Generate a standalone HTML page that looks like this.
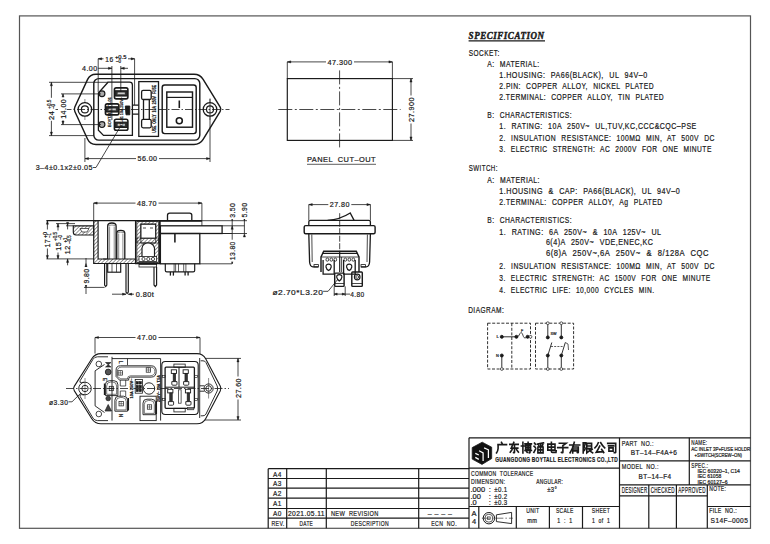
<!DOCTYPE html>
<html><head><meta charset="utf-8"><style>
html,body{margin:0;padding:0;background:#fff;width:770px;height:544px;overflow:hidden}
svg{display:block}
text{font-family:"Liberation Sans", sans-serif;fill:#1a1a1a;stroke:#1a1a1a;stroke-width:0.22;white-space:pre}
.c{stroke-dasharray:8 2 1.5 2}
.d{stroke-dasharray:2 1.5}
.f{fill:#1a1a1a}
</style></head><body>
<svg width="770" height="544" viewBox="0 0 770 544">
<defs><pattern id="hat" width="2.6" height="2.6" patternUnits="userSpaceOnUse" patternTransform="rotate(45)"><line x1="0" y1="0" x2="0" y2="2.6" style="stroke:#1a1a1a;stroke-width:0.9"/></pattern></defs>
<g fill="none" stroke="#1a1a1a" stroke-width="0.9">
<rect x="19.5" y="15.9" width="731" height="512.4" stroke-width="1.2" stroke="#555"/>
<line x1="268.2" y1="468.7" x2="469" y2="468.7" stroke-width="1.2" />
<line x1="268.2" y1="478.5" x2="469" y2="478.5" stroke-width="1.2" />
<line x1="268.2" y1="488.1" x2="469" y2="488.1" stroke-width="1.2" />
<line x1="268.2" y1="498.2" x2="469" y2="498.2" stroke-width="1.2" />
<line x1="268.2" y1="508.5" x2="469" y2="508.5" stroke-width="1.2" />
<line x1="268.2" y1="518.1" x2="469" y2="518.1" stroke-width="1.2" />
<line x1="268.2" y1="468.7" x2="268.2" y2="528.3" stroke-width="1.2" />
<line x1="286.7" y1="468.7" x2="286.7" y2="528.3" stroke-width="1.2" />
<line x1="326.3" y1="468.7" x2="326.3" y2="528.3" stroke-width="1.2" />
<line x1="418.7" y1="468.7" x2="418.7" y2="528.3" stroke-width="1.2" />
<line x1="469" y1="437.8" x2="750.5" y2="437.8" stroke-width="1.2" />
<line x1="469" y1="437.8" x2="469" y2="528.3" stroke-width="1.2" />
<line x1="469" y1="468.1" x2="619.5" y2="468.1" stroke-width="1.2" />
<line x1="469" y1="506.5" x2="619.5" y2="506.5" stroke-width="1.2" />
<line x1="478.8" y1="506.5" x2="478.8" y2="528.3" stroke-width="1.2" />
<line x1="516.3" y1="506.5" x2="516.3" y2="528.3" stroke-width="1.2" />
<line x1="549.4" y1="506.5" x2="549.4" y2="528.3" stroke-width="1.2" />
<line x1="582.5" y1="506.5" x2="582.5" y2="528.3" stroke-width="1.2" />
<line x1="619.5" y1="437.8" x2="619.5" y2="528.3" stroke-width="1.2" />
<line x1="689.3" y1="437.8" x2="689.3" y2="484.9" stroke-width="1.2" />
<line x1="619.5" y1="460.9" x2="750.5" y2="460.9" stroke-width="1.2" />
<line x1="619.5" y1="484.9" x2="750.5" y2="484.9" stroke-width="1.2" />
<line x1="619.5" y1="495.9" x2="707.3" y2="495.9" stroke-width="1.2" />
<line x1="648.8" y1="484.9" x2="648.8" y2="528.3" stroke-width="1.2" />
<line x1="676.4" y1="484.9" x2="676.4" y2="528.3" stroke-width="1.2" />
<line x1="707.3" y1="484.9" x2="707.3" y2="528.3" stroke-width="1.2" />
<line x1="707.3" y1="506.5" x2="750.5" y2="506.5" stroke-width="1.2" />
<text x="273.1" y="476.6" font-size="8" textLength="8.7" lengthAdjust="spacingAndGlyphs" letter-spacing="0.48" >A4</text>
<text x="273.1" y="486.3" font-size="8" textLength="8.7" lengthAdjust="spacingAndGlyphs" letter-spacing="0.48" >A3</text>
<text x="273.1" y="496.1" font-size="8" textLength="8.7" lengthAdjust="spacingAndGlyphs" letter-spacing="0.48" >A2</text>
<text x="273.1" y="506.3" font-size="8" textLength="8.7" lengthAdjust="spacingAndGlyphs" letter-spacing="0.48" >A1</text>
<text x="273.1" y="516.3" font-size="8" textLength="8.7" lengthAdjust="spacingAndGlyphs" letter-spacing="0.48" >A0</text>
<text x="271.5" y="526" font-size="8" textLength="13" lengthAdjust="spacingAndGlyphs" letter-spacing="0.48" >REV.</text>
<text x="306.5" y="516.3" font-size="8" textLength="37" lengthAdjust="spacingAndGlyphs" letter-spacing="0.48" text-anchor="middle" >2021.05.11</text>
<text x="330.9" y="516.3" font-size="8" textLength="47.7" lengthAdjust="spacingAndGlyphs" letter-spacing="0.48" >NEW  REVISION</text>
<text x="299.5" y="526" font-size="8" textLength="13.6" lengthAdjust="spacingAndGlyphs" letter-spacing="0.48" >DATE</text>
<text x="350.8" y="526" font-size="8" textLength="38.2" lengthAdjust="spacingAndGlyphs" letter-spacing="0.48" >DESCRIPTION</text>
<text x="427.7" y="516.3" font-size="8" textLength="24.6" lengthAdjust="spacingAndGlyphs" letter-spacing="0.48" >– – – –</text>
<text x="431.3" y="526" font-size="8" textLength="25.6" lengthAdjust="spacingAndGlyphs" letter-spacing="0.48" >ECN  NO.</text>
<text x="471" y="475.5" font-size="7.5" textLength="62.5" lengthAdjust="spacingAndGlyphs" letter-spacing="0.45" >COMMON  TOLERANCE</text>
<text x="471" y="483.6" font-size="7.5" textLength="34.3" lengthAdjust="spacingAndGlyphs" letter-spacing="0.45" >DIMENSION:</text>
<text x="536.2" y="483.6" font-size="7.5" textLength="27" lengthAdjust="spacingAndGlyphs" letter-spacing="0.45" >ANGULAR:</text>
<text x="470.5" y="492" font-size="7.5" >.000</text>
<text x="488.7" y="492" font-size="7.5" >:</text>
<text x="494.2" y="492" font-size="7.5" textLength="13.3" lengthAdjust="spacingAndGlyphs" letter-spacing="0.45" >±0.1</text>
<text x="470.5" y="498.7" font-size="7.5" >.00</text>
<text x="488.7" y="498.7" font-size="7.5" >:</text>
<text x="494.2" y="498.7" font-size="7.5" textLength="13.3" lengthAdjust="spacingAndGlyphs" letter-spacing="0.45" >±0.2</text>
<text x="470.5" y="505.3" font-size="7.5" >.0</text>
<text x="488.7" y="505.3" font-size="7.5" >:</text>
<text x="494.2" y="505.3" font-size="7.5" textLength="13.3" lengthAdjust="spacingAndGlyphs" letter-spacing="0.45" >±0.3</text>
<text x="547.2" y="492" font-size="7.5" textLength="10" lengthAdjust="spacingAndGlyphs" letter-spacing="0.45" >±3°</text>
<text x="474" y="516.3" font-size="7.5" text-anchor="middle" >A</text>
<text x="474" y="524" font-size="7.5" text-anchor="middle" >4</text>
<text x="526.2" y="513.2" font-size="8" textLength="13.3" lengthAdjust="spacingAndGlyphs" letter-spacing="0.48" >UNIT</text>
<text x="527.3" y="523" font-size="7" textLength="10" lengthAdjust="spacingAndGlyphs" letter-spacing="0.42" >mm</text>
<text x="556" y="513.2" font-size="8" textLength="17.7" lengthAdjust="spacingAndGlyphs" letter-spacing="0.48" >SCALE</text>
<text x="557.2" y="523.2" font-size="7" textLength="15.4" lengthAdjust="spacingAndGlyphs" letter-spacing="0.42" >1  :  1</text>
<text x="591.8" y="513.2" font-size="8" textLength="18.3" lengthAdjust="spacingAndGlyphs" letter-spacing="0.48" >SHEET</text>
<text x="592" y="523.2" font-size="7" textLength="18.1" lengthAdjust="spacingAndGlyphs" letter-spacing="0.42" >1  of  1</text>
<text x="621.8" y="446.1" font-size="7.8" textLength="32" lengthAdjust="spacingAndGlyphs" letter-spacing="0.47" >PART  NO.:</text>
<text x="630.8" y="455.4" font-size="7.2" textLength="46.4" lengthAdjust="spacingAndGlyphs" letter-spacing="0.43" >BT–14–F4A+6</text>
<text x="691.3" y="445" font-size="7.5" textLength="16" lengthAdjust="spacingAndGlyphs" letter-spacing="0.45" >NAME:</text>
<text x="691.3" y="450.6" font-size="5.4" textLength="59" lengthAdjust="spacingAndGlyphs" >AC INLET 3P+FUSE HOLDR</text>
<text x="694.6" y="457.2" font-size="5.4" textLength="47.4" lengthAdjust="spacingAndGlyphs" >+SWITCH(SCREW–ON)</text>
<text x="621.8" y="469.3" font-size="7.8" textLength="37" lengthAdjust="spacingAndGlyphs" letter-spacing="0.47" >MODEL  NO.:</text>
<text x="638.6" y="479.3" font-size="7.2" textLength="32.8" lengthAdjust="spacingAndGlyphs" letter-spacing="0.43" >BT–14–F4</text>
<text x="691.3" y="468.3" font-size="7.5" textLength="17" lengthAdjust="spacingAndGlyphs" letter-spacing="0.45" >SPEC.:</text>
<text x="697.6" y="473.1" font-size="5.4" textLength="42.4" lengthAdjust="spacingAndGlyphs" >IEC 60320–1, C14</text>
<text x="697.6" y="478.3" font-size="5.4" textLength="23.6" lengthAdjust="spacingAndGlyphs" >IEC 61058</text>
<text x="697.6" y="483.7" font-size="5.4" textLength="30" lengthAdjust="spacingAndGlyphs" >IEC 60127–6</text>
<text x="621.8" y="493.4" font-size="8.4" textLength="25.6" lengthAdjust="spacingAndGlyphs" letter-spacing="0.50" >DESIGNER</text>
<text x="650.7" y="493.4" font-size="8.4" textLength="24.2" lengthAdjust="spacingAndGlyphs" letter-spacing="0.50" >CHECKED</text>
<text x="678.3" y="493.4" font-size="8.4" textLength="27.4" lengthAdjust="spacingAndGlyphs" letter-spacing="0.50" >APPROVED</text>
<text x="709.2" y="491.3" font-size="7.5" textLength="17" lengthAdjust="spacingAndGlyphs" letter-spacing="0.45" >NOTE:</text>
<text x="709.2" y="513.1" font-size="7.5" textLength="27.8" lengthAdjust="spacingAndGlyphs" letter-spacing="0.45" >FILE  NO.:</text>
<text x="710.6" y="523.3" font-size="7.6" textLength="37.6" lengthAdjust="spacingAndGlyphs" letter-spacing="0.46" >S14F–0005</text>
<text x="495.3" y="462.2" font-size="6.4" textLength="122.6" lengthAdjust="spacingAndGlyphs" letter-spacing="0.38" font-weight="bold" >GUANGDONG BOYTALL ELECTRONICS CO.,LTD</text>
<path d="M482.2,442.2 L491.7,447.2 L491.7,458.6 L482,464.4 L472.2,459.1 L472.2,447.6 Z" stroke-width="0.8" fill="#111"/>
<path d="M479.1,450.8 L483.1,452.9 L483.1,461 M484.1,447.9 L488.4,449.8 L488.4,457.9 M475.3,453.4 L478.8,455 M475.3,457.4 L478.8,459.4" stroke-width="1.25" stroke="#fff"/>
<path d="M5,0 L5.8,1.6 M1.5,2.2 L10,2.2 M1.6,2.2 L1.6,6 Q1.4,8.5 0,10.3" transform="translate(496.5 442.3) scale(1.0 1.03)" stroke-width="1.6" stroke-linecap="square" fill="none"/>
<path d="M0.8,2 L9.2,2 M4.8,0 L2.2,5.6 L8.8,5.6 M5.5,3.2 L5.5,9.6 Q5.5,10.3 4.6,10 M3,7.2 L1.2,9.6 M7.6,7.2 L9.4,9.6" transform="translate(509 442.3) scale(1.0 1.03)" stroke-width="1.6" stroke-linecap="square" fill="none"/>
<path d="M0,3.6 L3,3.6 M1.5,0 L1.5,10.3 M3.6,1.6 L10,1.6 M4.2,3 L9.2,3 L9.2,6.8 L4.2,6.8 Z M4.2,4.9 L9.2,4.9 M6.7,0 L6.7,6.8 M3.6,8 L10,8 M8.6,6.8 L8.6,9.8 Q8.6,10.4 7.8,10.1 M5,8.8 L5.8,9.8" transform="translate(521.4 442.3) scale(1.0 1.03)" stroke-width="1.6" stroke-linecap="square" fill="none"/>
<path d="M0.6,0.8 L1.6,2 M0.2,3.8 L1.4,5 M0,9.8 L1.8,6.4 M3.6,1.8 L9.6,0.6 M4.6,2.4 L5.2,3.6 M6.8,2.3 L6.9,3.6 M8.9,2.2 L8.4,3.6 M4,4.6 L9.2,4.6 L9.2,10.2 L4,10.2 Z M4,7.3 L9.2,7.3 M6.6,4.6 L6.6,10.2" transform="translate(533.9 442.3) scale(1.0 1.03)" stroke-width="1.6" stroke-linecap="square" fill="none"/>
<path d="M1.4,1.8 L8.6,1.8 L8.6,7.6 L1.4,7.6 Z M1.4,4.7 L8.6,4.7 M5,0 L5,9 Q5,9.8 6,9.8 L9.6,9.8 L9.8,8.2" transform="translate(546.4 442.3) scale(1.0 1.03)" stroke-width="1.6" stroke-linecap="square" fill="none"/>
<path d="M1.6,0.9 L8.4,0.9 L5.2,3.2 M5.2,3.2 L5.2,9.6 Q5.2,10.4 3.8,9.8 M0,5.2 L10,5.2" transform="translate(557.7 442.3) scale(1.0 1.03)" stroke-width="1.6" stroke-linecap="square" fill="none"/>
<path d="M0,2.6 L10,2.6 M4.6,0 Q3.2,6 0.4,10.2 M3,4.6 L8.6,4.6 L8.6,9.6 Q8.6,10.4 7.6,10 M3,4.6 L3,10.3 M3,6.5 L8.6,6.5 M3,8.3 L8.6,8.3" transform="translate(569.7 442.3) scale(1.0 1.03)" stroke-width="1.6" stroke-linecap="square" fill="none"/>
<path d="M0.6,0.6 L0.6,10.3 M0.6,0.6 L3,0.6 L1.6,4.2 Q3.4,6 1.8,7.8 M4.2,1 L9,1 L9,6.2 L4.2,6.2 M4.2,3.6 L9,3.6 M4.2,1 L4.2,10.2 L6.4,8.6 M6,6.2 Q7.5,9 10,10.2 M9.6,6.8 L7.8,8" transform="translate(582.6 442.3) scale(1.0 1.03)" stroke-width="1.6" stroke-linecap="square" fill="none"/>
<path d="M3.6,0.4 Q2.5,3.5 0.2,5.4 M6,0.4 Q8,3.8 10,5.4 M5,3.8 Q3.5,7 1.6,9.6 L8.6,9 M7,7 L9,9.9" transform="translate(594.7 442.3) scale(1.0 1.03)" stroke-width="1.6" stroke-linecap="square" fill="none"/>
<path d="M1,1 L9,1 L9,9.6 Q9,10.4 7.6,10 M1.8,3.5 L7,3.5 M2.2,5.4 L6.4,5.4 L6.4,8.6 L2.2,8.6 Z" transform="translate(606.7 442.3) scale(1.0 1.03)" stroke-width="1.6" stroke-linecap="square" fill="none"/>
<circle cx="488.9" cy="518.2" r="5.7" stroke-width="1.0" />
<circle cx="488.9" cy="518.2" r="4" stroke-width="0.7" />
<rect x="487.6" y="516.9" width="2.6" height="2.6" stroke-width="0.6" />
<path d="M496.4,514.8 L511.6,512.4 L511.6,523.6 L496.4,521.6 Z" stroke-width="0.9" />
<line x1="481.9" y1="518.2" x2="512.9" y2="518.2" stroke-width="0.6" class="c" />
<text x="468.6" y="39.4" font-size="9.6" textLength="76" lengthAdjust="spacingAndGlyphs" letter-spacing="0.58" font-weight="bold" font-style="italic" style='font-family:"Liberation Serif", serif;stroke-width:0.45' >SPECIFICATION</text>
<line x1="468.6" y1="40.9" x2="545" y2="40.9" stroke-width="1.4" />
<text x="468.8" y="56.1" font-size="8.7" textLength="30.9" lengthAdjust="spacingAndGlyphs" word-spacing="0.3" letter-spacing="0.6">SOCKET:</text>
<text x="487.3" y="66.8" font-size="8.7" textLength="52.2" lengthAdjust="spacingAndGlyphs" word-spacing="0.3" letter-spacing="0.6">A:  MATERIAL:</text>
<text x="499.3" y="77.8" font-size="8.7" textLength="148.3" lengthAdjust="spacingAndGlyphs" word-spacing="0.3" letter-spacing="0.6">1.HOUSING:  PA66(BLACK),  UL  94V–0</text>
<text x="499.3" y="89.0" font-size="8.7" textLength="154.7" lengthAdjust="spacingAndGlyphs" word-spacing="0.3" letter-spacing="0.6">2.PIN:  COPPER  ALLOY,  NICKEL  PLATED</text>
<text x="499.3" y="100.19999999999999" font-size="8.7" textLength="164.7" lengthAdjust="spacingAndGlyphs" word-spacing="0.3" letter-spacing="0.6">2.TERMINAL:  COPPER  ALLOY,  TIN  PLATED</text>
<text x="487.3" y="118.1" font-size="8.7" textLength="84.7" lengthAdjust="spacingAndGlyphs" word-spacing="0.3" letter-spacing="0.6">B:  CHARACTERISTICS:</text>
<text x="499.3" y="129.4" font-size="8.7" textLength="197.4" lengthAdjust="spacingAndGlyphs" word-spacing="0.3" letter-spacing="0.6">1.  RATING:  10A  250V~  UL,TUV,KC,CCC&amp;CQC–PSE</text>
<text x="499.3" y="140.6" font-size="8.7" textLength="215.7" lengthAdjust="spacingAndGlyphs" word-spacing="0.3" letter-spacing="0.6">2.  INSULATION  RESISTANCE:  100MΩ  MIN,  AT  500V  DC</text>
<text x="499.3" y="151.79999999999998" font-size="8.7" textLength="212.5" lengthAdjust="spacingAndGlyphs" word-spacing="0.3" letter-spacing="0.6">3.  ELECTRIC  STRENGTH:  AC  2000V  FOR  ONE  MINUTE</text>
<text x="468.8" y="171.4" font-size="8.7" textLength="29.1" lengthAdjust="spacingAndGlyphs" word-spacing="0.3" letter-spacing="0.6">SWITCH:</text>
<text x="487.3" y="182.6" font-size="8.7" textLength="52.7" lengthAdjust="spacingAndGlyphs" word-spacing="0.3" letter-spacing="0.6">A:  MATERIAL:</text>
<text x="499.3" y="193.6" font-size="8.7" textLength="180.9" lengthAdjust="spacingAndGlyphs" word-spacing="0.3" letter-spacing="0.6">1.HOUSING  &amp;  CAP:  PA66(BLACK),  UL  94V–0</text>
<text x="499.3" y="205.4" font-size="8.7" textLength="163.4" lengthAdjust="spacingAndGlyphs" word-spacing="0.3" letter-spacing="0.6">2.TERMINAL:  COPPER  ALLOY,  Ag  PLATED</text>
<text x="487.3" y="223.4" font-size="8.7" textLength="84.7" lengthAdjust="spacingAndGlyphs" word-spacing="0.3" letter-spacing="0.6">B:  CHARACTERISTICS:</text>
<text x="499.3" y="234.6" font-size="8.7" textLength="162.3" lengthAdjust="spacingAndGlyphs" word-spacing="0.3" letter-spacing="0.6">1.  RATING:  6A  250V~  &amp;  10A  125V~  UL</text>
<text x="545.9" y="244.6" font-size="8.7" textLength="107.6" lengthAdjust="spacingAndGlyphs" word-spacing="0.3" letter-spacing="0.6">6(4)A  250V~  VDE,ENEC,KC</text>
<text x="545.9" y="255.79999999999998" font-size="8.7" textLength="163.1" lengthAdjust="spacingAndGlyphs" word-spacing="0.3" letter-spacing="0.6">6(8)A  250V~,6A  250V~  &amp;  8/128A  CQC</text>
<text x="499.3" y="268.90000000000003" font-size="8.7" textLength="215.7" lengthAdjust="spacingAndGlyphs" word-spacing="0.3" letter-spacing="0.6">2.  INSULATION  RESISTANCE:  100MΩ  MIN,  AT  500V  DC</text>
<text x="499.3" y="280.90000000000003" font-size="8.7" textLength="211.4" lengthAdjust="spacingAndGlyphs" word-spacing="0.3" letter-spacing="0.6">3.  ELECTRIC  STRENGTH:  AC  1500V  FOR  ONE  MINUTE</text>
<text x="499.3" y="293.1" font-size="8.7" textLength="155.3" lengthAdjust="spacingAndGlyphs" word-spacing="0.3" letter-spacing="0.6">4.  ELECTRIC  LIFE:  10,000  CYCLES  MIN.</text>
<text x="468.2" y="313.1" font-size="8.7" textLength="36.0" lengthAdjust="spacingAndGlyphs" word-spacing="0.3" letter-spacing="0.6">DIAGRAM:</text>
<path d="M87.48,79.65 Q90.00,74.20 96.00,74.20 L194.00,74.20 Q200.00,74.20 203.14,79.31 L220.19,107.07 Q221.50,109.20 220.20,111.34 L203.12,139.38 Q200.00,144.50 194.00,144.50 L96.00,144.50 Q90.00,144.50 87.50,139.05 L74.84,111.47 Q73.80,109.20 74.85,106.93 Z" stroke-width="1.43" />
<rect x="93.8" y="78.6" width="106" height="61.5" rx="5" stroke-width="1.43" />
<circle cx="84.9" cy="109.4" r="6.8" stroke-width="1.3" />
<circle cx="84.9" cy="109.4" r="3.5" stroke-width="1.17" />
<line x1="84.9" y1="99" x2="84.9" y2="103" stroke-width="0.5" />
<line x1="84.9" y1="116" x2="84.9" y2="120" stroke-width="0.5" />
<circle cx="210" cy="109.4" r="6.8" stroke-width="1.3" />
<circle cx="210" cy="109.4" r="3.5" stroke-width="1.17" />
<line x1="210" y1="99" x2="210" y2="103" stroke-width="0.5" />
<line x1="210" y1="116" x2="210" y2="120" stroke-width="0.5" />
<line x1="50" y1="109.5" x2="229.5" y2="109.5" stroke-width="0.8" class="c" />
<line x1="210" y1="98.5" x2="210" y2="162" stroke-width="0.8" />
<line x1="84.9" y1="138" x2="84.9" y2="162" stroke-width="0.8" />
<path d="M108,82.2 L129.5,82.2 Q132.4,82.2 132.4,85 L132.4,135.4 L103.5,135.4 L98.4,130.3 L98.4,93 Z" stroke-width="1.3" />
<circle cx="102" cy="93.7" r="2.9" stroke-width="1.17" fill="#aaa"/>
<circle cx="102" cy="124.6" r="2.9" stroke-width="1.17" fill="#aaa"/>
<rect x="114.4" y="87.9" width="13.5" height="11" rx="1.8" stroke-width="1.56" />
<rect x="115.0" y="90.80000000000001" width="12.3" height="5.2" stroke-width="1.17" fill="#333"/>
<rect x="117.2" y="92.10000000000001" width="7.9" height="2.6" stroke-width="0.5" fill="#ccc"/>
<rect x="105.4" y="103.9" width="13.5" height="11" rx="1.8" stroke-width="1.56" />
<rect x="106.0" y="106.80000000000001" width="12.3" height="5.2" stroke-width="1.17" fill="#333"/>
<rect x="108.2" y="108.10000000000001" width="7.9" height="2.6" stroke-width="0.5" fill="#ccc"/>
<rect x="114.4" y="119.3" width="13.5" height="11" rx="1.8" stroke-width="1.56" />
<rect x="115.0" y="122.2" width="12.3" height="5.2" stroke-width="1.17" fill="#333"/>
<rect x="117.2" y="123.5" width="7.9" height="2.6" stroke-width="0.5" fill="#ccc"/>
<path d="M125.3,106 L129.8,106 L129.8,114.8 L126,114.8 Z" class="f"/>
<path d="M132.4,105.2 L138.8,105.2 M132.4,114.2 L138.8,114.2" stroke-width="1.17" />
<rect x="138.8" y="81.6" width="19.7" height="54.8" stroke-width="1.3" />
<rect x="141.6" y="90.4" width="9.6" height="9.1" rx="1.5" stroke-width="1.3" />
<rect x="141.6" y="119.4" width="9.6" height="8.4" rx="1.5" stroke-width="1.3" />
<line x1="143.5" y1="99.5" x2="143.5" y2="119.4" stroke-width="1.3" />
<line x1="149.3" y1="99.5" x2="149.3" y2="119.4" stroke-width="1.3" />
<text x="154.6" y="108.8" font-size="4.6" textLength="48" lengthAdjust="spacingAndGlyphs" text-anchor="middle" font-weight="bold" transform="rotate(-90 154.6 108.8)" dy="1.6">USE  ONLY  10A  250V  FUSE</text>
<rect x="162.2" y="85" width="34" height="48.6" rx="2.5" stroke-width="1.43" />
<rect x="166.8" y="92" width="25.7" height="35.2" stroke-width="1.43" />
<line x1="166.8" y1="97.4" x2="192.5" y2="97.4" stroke-width="1.17" />
<line x1="179.3" y1="100.5" x2="179.3" y2="108" stroke-width="1.56" />
<circle cx="179.3" cy="120.8" r="3" stroke-width="1.56" />
<text x="110.5" y="112" font-size="3.4" textLength="30" lengthAdjust="spacingAndGlyphs" text-anchor="middle" transform="rotate(-90 110.5 112)" >BOYTALL KT–01</text>
<text x="122.5" y="112" font-size="3.4" textLength="30" lengthAdjust="spacingAndGlyphs" text-anchor="middle" transform="rotate(-90 122.5 112)" >KT–01 10A 250V~</text>
<line x1="51.4" y1="82.3" x2="51.4" y2="135.6" stroke-width="0.8" />
<path d="M51.4,82.3 L50.3,85.8 L52.5,85.8 Z" class="f" stroke-width="0.4"/>
<path d="M51.4,135.6 L50.3,132.1 L52.5,132.1 Z" class="f" stroke-width="0.4"/>
<line x1="49" y1="82.3" x2="108" y2="82.3" stroke-width="0.8" />
<line x1="49" y1="135.6" x2="94" y2="135.6" stroke-width="0.8" />
<rect x="47.5" y="97.8" width="8" height="23" fill="#fff" stroke="none"/>
<text x="51.4" y="115.3" font-size="8" textLength="9.2" lengthAdjust="spacingAndGlyphs" letter-spacing="0.48" text-anchor="middle" transform="rotate(-90 51.4 115.3)" dy="2.9">24</text>
<text x="49.8" y="104.2" font-size="4.6" textLength="9" lengthAdjust="spacingAndGlyphs" text-anchor="middle" transform="rotate(-90 49.8 104.2)" dy="1.6">+0.5</text>
<text x="53.6" y="106.5" font-size="4.6" textLength="4.6" lengthAdjust="spacingAndGlyphs" text-anchor="middle" transform="rotate(-90 53.6 106.5)" dy="1.6">–0</text>
<line x1="63" y1="93.9" x2="63" y2="124.6" stroke-width="0.8" />
<path d="M63,93.9 L61.9,97.4 L64.1,97.4 Z" class="f" stroke-width="0.4"/>
<path d="M63,124.6 L61.9,121.1 L64.1,121.1 Z" class="f" stroke-width="0.4"/>
<line x1="61" y1="93.9" x2="101" y2="93.9" stroke-width="0.8" />
<line x1="61" y1="124.6" x2="101" y2="124.6" stroke-width="0.8" />
<rect x="59.25" y="97.3" width="7.5" height="23.0" fill="#fff" stroke="none"/>
<text x="63" y="108.8" font-size="8" textLength="20" lengthAdjust="spacingAndGlyphs" letter-spacing="0.48" text-anchor="middle" transform="rotate(-90 63 108.8)" dy="2.88">14.00</text>
<line x1="98.2" y1="58.8" x2="98.2" y2="92" stroke-width="0.8" />
<line x1="134.6" y1="58.8" x2="134.6" y2="105" stroke-width="0.8" />
<line x1="98.2" y1="58.8" x2="134.6" y2="58.8" stroke-width="0.8" />
<path d="M98.2,58.8 L101.7,57.699999999999996 L101.7,59.9 Z" class="f" stroke-width="0.4"/>
<path d="M134.6,58.8 L131.1,57.699999999999996 L131.1,59.9 Z" class="f" stroke-width="0.4"/>
<rect x="103.5" y="55" width="24.5" height="8" fill="#fff" stroke="none"/>
<text x="105.3" y="62.1" font-size="8" textLength="8.2" lengthAdjust="spacingAndGlyphs" letter-spacing="0.48" >16</text>
<text x="115" y="59.2" font-size="4.6" textLength="11.4" lengthAdjust="spacingAndGlyphs" >+0.5</text>
<text x="116" y="63.2" font-size="4.6" textLength="5" lengthAdjust="spacingAndGlyphs" >–0</text>
<line x1="98.2" y1="68.3" x2="111.9" y2="68.3" stroke-width="0.8" />
<line x1="111.9" y1="66" x2="111.9" y2="120" stroke-width="0.8" />
<line x1="120.8" y1="66" x2="120.8" y2="92" stroke-width="0.8" />
<line x1="120.8" y1="68.3" x2="128" y2="68.3" stroke-width="0.8" />
<path d="M111.9,68.3 L108.4,67.2 L108.4,69.39999999999999 Z" class="f" stroke-width="0.4"/>
<path d="M120.8,68.3 L124.3,67.2 L124.3,69.39999999999999 Z" class="f" stroke-width="0.4"/>
<text x="82" y="71.2" font-size="8" textLength="15.6" lengthAdjust="spacingAndGlyphs" letter-spacing="0.48" >4.00</text>
<line x1="85" y1="158.6" x2="210" y2="158.6" stroke-width="0.8" />
<path d="M85,158.6 L88.5,157.5 L88.5,159.7 Z" class="f" stroke-width="0.4"/>
<path d="M210,158.6 L206.5,157.5 L206.5,159.7 Z" class="f" stroke-width="0.4"/>
<rect x="136.0" y="154.85" width="23.0" height="7.5" fill="#fff" stroke="none"/>
<text x="137.5" y="161.48" font-size="8" textLength="20" lengthAdjust="spacingAndGlyphs" letter-spacing="0.48" >56.00</text>
<path d="M92.9,167.5 L96,167.5 L120.8,125.8" stroke-width="0.8" />
<text x="35.7" y="170.3" font-size="8" textLength="57.2" lengthAdjust="spacingAndGlyphs" letter-spacing="0.48" >3–4±0.1x2±0.05</text>
<line x1="46.4" y1="220.7" x2="201.9" y2="220.7" stroke-width="1.3" />
<line x1="201.9" y1="220.7" x2="232" y2="220.7" stroke-width="0.8" />
<path d="M93.7,220.7 L98.1,220.7 L98.1,259 L135.6,259 L135.6,263.5 L93.7,263.5 Z" stroke-width="1.17" fill="url(#hat)"/>
<path d="M73.3,225.8 L93.7,225.8 L93.7,235 L76,235 Q73.3,235 73.3,232 Z" stroke-width="1.17" fill="url(#hat)"/>
<path d="M80,228.5 L89,228.5 L87,232 L82,232 Z" stroke-width="0.7" fill="#fff"/>
<path d="M107.7,259 L107.7,226 Q107.7,223 111.9,223 Q116.1,223 116.1,226 L116.1,259" stroke-width="1.3" />
<path d="M116.8,259 L116.8,233 Q116.8,230.3 120.8,230.3 Q124.8,230.3 124.8,233 L124.8,259" stroke-width="1.3" />
<line x1="109.6" y1="226.5" x2="109.6" y2="259" stroke-width="0.5" />
<line x1="114.2" y1="226.5" x2="114.2" y2="259" stroke-width="0.5" />
<line x1="118.7" y1="233.5" x2="118.7" y2="259" stroke-width="0.5" />
<line x1="122.9" y1="233.5" x2="122.9" y2="259" stroke-width="0.5" />
<path d="M108.5,225.5 Q111.9,224.5 115.3,225.5 M117.6,232.6 Q120.8,231.6 124,232.6" stroke-width="0.5" />
<line x1="103" y1="259" x2="108" y2="259" stroke-width="0.8" />
<rect x="107.7" y="263.5" width="13" height="8.7" stroke-width="1.17" />
<line x1="112" y1="263.5" x2="112" y2="272.2" stroke-width="0.7" />
<line x1="116.5" y1="263.5" x2="116.5" y2="272.2" stroke-width="0.7" />
<path d="M104.6,263.5 L104.6,285 L105.7,286.5 L106.8,285 L106.8,263.5" stroke-width="1.17" />
<path d="M126,263.5 L126,292 L127.1,293.5 L128.3,292 L128.3,263.5" stroke-width="1.17" />
<path d="M154,267 L154,285 L155.3,286.5 L156.6,285 L156.6,267" stroke-width="1.17" />
<path d="M135.6,220.7 L159.8,220.7 L159.8,263.5 L135.6,263.5 Z" stroke-width="1.3" />
<path d="M136.8,221.5 L158.6,221.5 L158.6,262.5 L136.8,262.5 Z M140.9,224.2 L155.7,224.2 L155.7,243 L140.9,243 Z" stroke-width="0.8" fill="url(#hat)" fill-rule="evenodd"/>
<path d="M136.8,238 L158.6,238 L158.6,243 L136.8,243 Z" stroke-width="0.6" fill="url(#hat)"/>
<rect x="140.9" y="224.2" width="14.8" height="14" stroke-width="1.17" fill="#fff"/>
<line x1="143" y1="228" x2="146" y2="228" stroke-width="0.8" />
<line x1="150" y1="228" x2="153" y2="228" stroke-width="0.8" />
<path d="M142,258 L142,248 Q143,243 148,243 Q153,243 154.5,248 L154.5,258" stroke-width="1.17" fill="#fff"/>
<rect x="139" y="256.5" width="17.6" height="5" stroke-width="0.8" fill="#fff"/>
<circle cx="143.5" cy="259" r="1.6" stroke-width="0.8" />
<circle cx="148.3" cy="259" r="1.6" stroke-width="0.8" />
<circle cx="153" cy="259" r="1.6" stroke-width="0.8" />
<rect x="139" y="264.4" width="17.6" height="2.6" stroke-width="0.8" />
<line x1="159.8" y1="220.7" x2="159.8" y2="263.8" stroke-width="1.3" />
<path d="M167.5,220.7 L167.5,215.3 Q167.5,213.1 169.7,213.1 L189.6,213.1 Q191.8,213.1 191.8,215.3 L191.8,220.7" stroke-width="1.3" />
<rect x="160.4" y="225.8" width="61.7" height="7.7" stroke-width="1.3" />
<line x1="159.8" y1="221" x2="201.9" y2="221" stroke-width="1.3" />
<rect x="160.4" y="233.5" width="39.4" height="30.3" stroke-width="1.3" />
<line x1="174.9" y1="233.5" x2="174.9" y2="242.5" stroke-width="1.56" />
<line x1="232" y1="263.8" x2="199.8" y2="263.8" stroke-width="0.8" />
<line x1="222.1" y1="225.8" x2="244.4" y2="225.8" stroke-width="0.8" />
<line x1="222.1" y1="233.5" x2="232" y2="233.5" stroke-width="0.8" />
<path d="M165.3,263.8 L165.3,270.5 Q165.3,271.9 166.8,271.9 L193.2,271.9 Q194.7,271.9 194.7,270.5 L194.7,263.8" stroke-width="1.17" />
<line x1="174.1" y1="263.8" x2="174.1" y2="271.9" stroke-width="0.7" />
<line x1="175.6" y1="263.8" x2="175.6" y2="271.9" stroke-width="0.7" />
<line x1="178.5" y1="263.8" x2="178.5" y2="271.9" stroke-width="0.7" />
<line x1="183.7" y1="263.8" x2="183.7" y2="271.9" stroke-width="0.7" />
<line x1="185.9" y1="263.8" x2="185.9" y2="271.9" stroke-width="0.7" />
<line x1="170.4" y1="271.9" x2="170.4" y2="275.6" stroke-width="1.3" />
<line x1="173.4" y1="271.9" x2="173.4" y2="275.6" stroke-width="1.3" />
<line x1="185.1" y1="271.9" x2="185.1" y2="275.6" stroke-width="1.3" />
<line x1="188.1" y1="271.9" x2="188.1" y2="275.6" stroke-width="1.3" />
<line x1="93.7" y1="203.1" x2="93.7" y2="220.7" stroke-width="0.8" />
<line x1="201.9" y1="203.1" x2="201.9" y2="225.8" stroke-width="0.8" />
<line x1="93.7" y1="203.1" x2="201.9" y2="203.1" stroke-width="0.8" />
<path d="M93.7,203.1 L97.2,202.0 L97.2,204.2 Z" class="f" stroke-width="0.4"/>
<path d="M201.9,203.1 L198.4,202.0 L198.4,204.2 Z" class="f" stroke-width="0.4"/>
<rect x="135.5" y="199.35" width="23.0" height="7.5" fill="#fff" stroke="none"/>
<text x="137.0" y="205.98" font-size="8" textLength="20" lengthAdjust="spacingAndGlyphs" letter-spacing="0.48" >48.70</text>
<line x1="47.4" y1="220.7" x2="47.4" y2="258.9" stroke-width="0.8" />
<path d="M47.4,220.7 L46.3,224.2 L48.5,224.2 Z" class="f" stroke-width="0.4"/>
<path d="M47.4,258.9 L46.3,255.39999999999998 L48.5,255.39999999999998 Z" class="f" stroke-width="0.4"/>
<line x1="46.4" y1="258.9" x2="93.7" y2="258.9" stroke-width="0.8" />
<rect x="43.4" y="229.5" width="8.5" height="19" fill="#fff" stroke="none"/>
<text x="47.4" y="243.2" font-size="8" textLength="8.6" lengthAdjust="spacingAndGlyphs" letter-spacing="0.48" text-anchor="middle" transform="rotate(-90 47.4 243.2)" dy="2.9">17</text>
<text x="45.3" y="235" font-size="4.6" textLength="6" lengthAdjust="spacingAndGlyphs" text-anchor="middle" transform="rotate(-90 45.3 235)" dy="1.6">+0</text>
<text x="49.7" y="235.6" font-size="4.6" textLength="4.5" lengthAdjust="spacingAndGlyphs" text-anchor="middle" transform="rotate(-90 49.7 235.6)" dy="1.6">–1</text>
<line x1="58" y1="223.6" x2="58" y2="258.9" stroke-width="0.8" />
<path d="M58,223.6 L56.9,227.1 L59.1,227.1 Z" class="f" stroke-width="0.4"/>
<path d="M58,258.9 L56.9,255.39999999999998 L59.1,255.39999999999998 Z" class="f" stroke-width="0.4"/>
<line x1="56" y1="223.6" x2="75" y2="223.6" stroke-width="0.8" />
<rect x="54" y="230.5" width="8.5" height="22" fill="#fff" stroke="none"/>
<text x="58" y="246.2" font-size="8" textLength="9" lengthAdjust="spacingAndGlyphs" letter-spacing="0.48" text-anchor="middle" transform="rotate(-90 58 246.2)" dy="2.9">15</text>
<text x="55.8" y="236.5" font-size="4.6" textLength="9" lengthAdjust="spacingAndGlyphs" text-anchor="middle" transform="rotate(-90 55.8 236.5)" dy="1.6">+0.5</text>
<text x="60.2" y="237.5" font-size="4.6" textLength="4.5" lengthAdjust="spacingAndGlyphs" text-anchor="middle" transform="rotate(-90 60.2 237.5)" dy="1.6">–0</text>
<line x1="67.6" y1="223" x2="67.6" y2="229.4" stroke-width="0.8" />
<path d="M67.6,225.8 L66.5,222.3 L68.69999999999999,222.3 Z" class="f" stroke-width="0.4"/>
<line x1="67.6" y1="258.9" x2="67.6" y2="265.3" stroke-width="0.8" />
<path d="M67.6,258.9 L66.5,262.4 L68.69999999999999,262.4 Z" class="f" stroke-width="0.4"/>
<line x1="66" y1="225.8" x2="73.3" y2="225.8" stroke-width="0.8" />
<text x="67.6" y="249.7" font-size="8" textLength="9" lengthAdjust="spacingAndGlyphs" letter-spacing="0.48" text-anchor="middle" transform="rotate(-90 67.6 249.7)" dy="2.9">12</text>
<text x="65.4" y="240" font-size="4.6" textLength="5" lengthAdjust="spacingAndGlyphs" text-anchor="middle" transform="rotate(-90 65.4 240)" dy="1.6">+1</text>
<text x="69.8" y="239.5" font-size="4.6" textLength="8.5" lengthAdjust="spacingAndGlyphs" text-anchor="middle" transform="rotate(-90 69.8 239.5)" dy="1.6">–0.5</text>
<line x1="86" y1="258" x2="86" y2="294" stroke-width="0.8" />
<path d="M86,263.5 L84.9,267.0 L87.1,267.0 Z" class="f" stroke-width="0.4"/>
<path d="M86,287.4 L84.9,283.9 L87.1,283.9 Z" class="f" stroke-width="0.4"/>
<line x1="84" y1="287.4" x2="104.6" y2="287.4" stroke-width="0.8" />
<rect x="82.25" y="267.0" width="7.5" height="18.0" fill="#fff" stroke="none"/>
<text x="86" y="276" font-size="8" textLength="15" lengthAdjust="spacingAndGlyphs" letter-spacing="0.48" text-anchor="middle" transform="rotate(-90 86 276)" dy="2.88">9.80</text>
<line x1="112" y1="294.2" x2="126" y2="294.2" stroke-width="0.8" />
<line x1="128.3" y1="294.2" x2="134" y2="294.2" stroke-width="0.8" />
<path d="M126,294.2 L122.5,293.09999999999997 L122.5,295.3 Z" class="f" stroke-width="0.4"/>
<path d="M128.3,294.2 L131.8,293.09999999999997 L131.8,295.3 Z" class="f" stroke-width="0.4"/>
<text x="135.7" y="297.1" font-size="8" textLength="18.6" lengthAdjust="spacingAndGlyphs" letter-spacing="0.48" >0.80t</text>
<line x1="232.2" y1="218.5" x2="232.2" y2="225.8" stroke-width="0.8" />
<path d="M232.2,220.7 L231.1,217.2 L233.29999999999998,217.2 Z" class="f" stroke-width="0.4"/>
<path d="M232.2,225.8 L231.1,229.3 L233.29999999999998,229.3 Z" class="f" stroke-width="0.4"/>
<rect x="228.45" y="201.2" width="7.5" height="18.0" fill="#fff" stroke="none"/>
<text x="232.2" y="210.2" font-size="8" textLength="15" lengthAdjust="spacingAndGlyphs" letter-spacing="0.48" text-anchor="middle" transform="rotate(-90 232.2 210.2)" dy="2.88">3.50</text>
<line x1="244.4" y1="218.5" x2="244.4" y2="233.5" stroke-width="0.8" />
<path d="M244.4,220.7 L243.3,217.2 L245.5,217.2 Z" class="f" stroke-width="0.4"/>
<path d="M244.4,233.5 L243.3,237.0 L245.5,237.0 Z" class="f" stroke-width="0.4"/>
<line x1="232" y1="220.7" x2="247" y2="220.7" stroke-width="0.8" />
<line x1="222.1" y1="233.5" x2="247" y2="233.5" stroke-width="0.8" />
<rect x="240.65" y="201.0" width="7.5" height="18.0" fill="#fff" stroke="none"/>
<text x="244.4" y="210" font-size="8" textLength="15" lengthAdjust="spacingAndGlyphs" letter-spacing="0.48" text-anchor="middle" transform="rotate(-90 244.4 210)" dy="2.88">5.90</text>
<line x1="232.2" y1="225.8" x2="232.2" y2="263.8" stroke-width="0.8" />
<path d="M232.2,263.8 L231.1,260.3 L233.29999999999998,260.3 Z" class="f" stroke-width="0.4"/>
<rect x="228.45" y="239.7" width="7.5" height="22.0" fill="#fff" stroke="none"/>
<text x="232.2" y="250.7" font-size="8" textLength="19" lengthAdjust="spacingAndGlyphs" letter-spacing="0.48" text-anchor="middle" transform="rotate(-90 232.2 250.7)" dy="2.88">13.80</text>
<line x1="308.8" y1="204.6" x2="370.4" y2="204.6" stroke-width="0.8" />
<path d="M308.8,204.6 L312.3,203.5 L312.3,205.7 Z" class="f" stroke-width="0.4"/>
<path d="M370.4,204.6 L366.9,203.5 L366.9,205.7 Z" class="f" stroke-width="0.4"/>
<line x1="308.8" y1="204.6" x2="308.8" y2="220.4" stroke-width="0.8" />
<line x1="370.4" y1="204.6" x2="370.4" y2="220.4" stroke-width="0.8" />
<rect x="328.3" y="200.85" width="23.0" height="7.5" fill="#fff" stroke="none"/>
<text x="329.8" y="207.48" font-size="8" textLength="20" lengthAdjust="spacingAndGlyphs" letter-spacing="0.48" >27.80</text>
<path d="M308.8,225.6 L308.8,221.8 Q308.8,220.4 310.5,220.4 L368.7,220.4 Q370.4,220.4 370.4,221.8 L370.4,225.6" stroke-width="1.3" />
<path d="M327.6,220.4 Q340,219.5 350.2,213 L354.1,220.4" stroke-width="1.3" />
<rect x="304.2" y="225.6" width="70.9" height="8.1" rx="1.5" stroke-width="1.43" />
<path d="M308.8,233.7 L309.6,262 Q310,266.8 313,266.8 L318.2,266.8 M370.4,233.7 L369.6,262 Q369.2,266.8 366.2,266.8 L361,266.8" stroke-width="1.3" />
<line x1="311.8" y1="234.5" x2="312.2" y2="262" stroke-width="0.8" />
<line x1="367.4" y1="234.5" x2="367" y2="262" stroke-width="0.8" />
<rect x="314" y="264.6" width="4.4" height="2.4" stroke-width="0.8" />
<rect x="361" y="264.6" width="4.4" height="2.4" stroke-width="0.8" />
<line x1="339.7" y1="213.2" x2="339.7" y2="251.3" stroke-width="0.8" stroke-dasharray="6 1.5"/>
<path d="M321,272 L321,257 L323.7,251.3 L356.3,251.3 L359,257 L359,272" stroke-width="1.43" />
<line x1="322.6" y1="253.4" x2="357.4" y2="253.4" stroke-width="1.17" />
<line x1="321.5" y1="257" x2="358.5" y2="257" stroke-width="0.8" />
<rect x="326" y="258" width="2.6" height="3.2" rx="1.2" stroke-width="0.8" />
<rect x="330" y="258" width="2.6" height="3.2" rx="1.2" stroke-width="0.8" />
<rect x="334" y="258" width="2.6" height="3.2" rx="1.2" stroke-width="0.8" />
<rect x="344" y="258" width="2.6" height="3.2" rx="1.2" stroke-width="0.8" />
<rect x="348" y="258" width="2.6" height="3.2" rx="1.2" stroke-width="0.8" />
<rect x="352" y="258" width="2.6" height="3.2" rx="1.2" stroke-width="0.8" />
<line x1="339.7" y1="251.3" x2="339.7" y2="272" stroke-width="1.17" />
<line x1="341.6" y1="257" x2="341.6" y2="272" stroke-width="0.8" />
<path d="M323.1,259.9 L323.1,274.2 L334.2,274.2 L334.2,259.9" stroke-width="1.3" />
<path d="M328.6,264.2 Q331.40000000000003,264.2 331.20000000000005,267 Q330.6,269.6 328.6,270.6 Q326.6,269.6 326.0,267 Q325.8,264.2 328.6,264.2 Z" stroke-width="1.17" />
<path d="M343.6,259.9 L343.6,274.2 L355.2,274.2 L355.2,259.9" stroke-width="1.3" />
<path d="M349.2,264.2 Q352.0,264.2 351.8,267 Q351.2,269.6 349.2,270.6 Q347.2,269.6 346.59999999999997,267 Q346.4,264.2 349.2,264.2 Z" stroke-width="1.17" />
<rect x="334.7" y="273.1" width="9.4" height="13.3" rx="0.8" stroke-width="1.43" />
<path d="M339.3,274.6 Q342,274.6 341.9,277.2 Q341.6,279.5 339.3,281 Q337,279.5 336.7,277.2 Q336.6,274.6 339.3,274.6 Z" stroke-width="1.17" />
<line x1="334.7" y1="283.5" x2="344.1" y2="283.5" stroke-width="0.8" />
<rect x="351.8" y="272" width="10.5" height="14.4" rx="0.8" stroke-width="1.43" />
<circle cx="357.2" cy="277" r="2.8" stroke-width="1.17" />
<circle cx="357.2" cy="277" r="1.4" stroke-width="0.8" />
<line x1="351.8" y1="283.5" x2="362.3" y2="283.5" stroke-width="0.8" />
<path d="M323.1,291.3 L328.1,291.3 L337.5,279.7" stroke-width="0.8" />
<text x="272.4" y="294.6" font-size="8" textLength="51" lengthAdjust="spacingAndGlyphs" letter-spacing="0.48" >ø2.70*L3.20</text>
<line x1="334.2" y1="286.4" x2="334.2" y2="296" stroke-width="0.8" />
<line x1="345.2" y1="286.4" x2="345.2" y2="296" stroke-width="0.8" />
<line x1="334.2" y1="294.1" x2="350" y2="294.1" stroke-width="0.8" />
<path d="M334.2,294.1 L337.2,293.0 L337.2,295.20000000000005 Z" class="f" stroke-width="0.4"/>
<path d="M345.2,294.1 L342.2,293.0 L342.2,295.20000000000005 Z" class="f" stroke-width="0.4"/>
<text x="350.2" y="297" font-size="8" textLength="14.4" lengthAdjust="spacingAndGlyphs" letter-spacing="0.48" >4.80</text>
<rect x="287.3" y="78.6" width="105.1" height="61.8" stroke-width="1.17" />
<line x1="287.3" y1="61.9" x2="392.4" y2="61.9" stroke-width="0.8" />
<path d="M287.3,61.9 L290.8,60.8 L290.8,63.0 Z" class="f" stroke-width="0.4"/>
<path d="M392.4,61.9 L388.9,60.8 L388.9,63.0 Z" class="f" stroke-width="0.4"/>
<line x1="287.3" y1="61.9" x2="287.3" y2="78.6" stroke-width="0.8" />
<line x1="392.4" y1="61.9" x2="392.4" y2="78.6" stroke-width="0.8" />
<rect x="326.0" y="58.15" width="28.0" height="7.5" fill="#fff" stroke="none"/>
<text x="327.5" y="64.78" font-size="8" textLength="25" lengthAdjust="spacingAndGlyphs" letter-spacing="0.48" >47.300</text>
<line x1="411" y1="78.6" x2="411" y2="140.4" stroke-width="0.8" />
<path d="M411,78.6 L409.9,82.1 L412.1,82.1 Z" class="f" stroke-width="0.4"/>
<path d="M411,140.4 L409.9,136.9 L412.1,136.9 Z" class="f" stroke-width="0.4"/>
<line x1="392.4" y1="78.6" x2="413" y2="78.6" stroke-width="0.8" />
<line x1="392.4" y1="140.4" x2="413" y2="140.4" stroke-width="0.8" />
<rect x="407.25" y="95.5" width="7.5" height="28.0" fill="#fff" stroke="none"/>
<text x="411" y="109.5" font-size="8" textLength="25" lengthAdjust="spacingAndGlyphs" letter-spacing="0.48" text-anchor="middle" transform="rotate(-90 411 109.5)" dy="2.88">27.900</text>
<line x1="278.3" y1="109.5" x2="400.6" y2="109.5" stroke-width="0.8" stroke-dasharray="14 2.5 2 2.5"/>
<line x1="339.6" y1="70.4" x2="339.6" y2="148" stroke-width="0.8" stroke-dasharray="14 2.5 2 2.5"/>
<text x="307" y="162" font-size="8" textLength="69" lengthAdjust="spacingAndGlyphs" letter-spacing="0.48" >PANEL  CUT–OUT</text>
<line x1="307" y1="164.3" x2="376" y2="164.3" stroke-width="0.7" />
<path d="M91.79,358.67 Q95.00,353.60 101.00,353.60 L197.00,353.60 Q203.00,353.60 205.81,358.90 L220.33,386.29 Q221.50,388.50 220.34,390.71 L205.79,418.49 Q203.00,423.80 197.00,423.80 L101.00,423.80 Q95.00,423.80 91.82,418.71 L74.23,390.62 Q72.90,388.50 74.24,386.39 Z" stroke-width="1.1" />
<path d="M108,356.8 L97.5,356.8 Q94.5,356.8 93,359.3 L80.2,380.6 Q79,382.8 81.5,382.6 L84,382.2" stroke-width="0.9" />
<path d="M108,420.6 L97.5,420.6 Q94.5,420.6 93,418.1 L80.2,396.6 Q79,394.4 81.5,394.6 L84,395" stroke-width="0.9" />
<circle cx="85" cy="388.5" r="6.3" stroke-width="0.9" />
<circle cx="85" cy="388.5" r="3.2" stroke-width="0.9" />
<path d="M95.1,405.9 L95.1,370.8 L104.5,364.5 M95.1,405.9 L104.5,412.5" stroke-width="0.9" />
<path d="M200.7,360.8 L203,360.8 Q205,360.8 206,362.6 L217.2,386 Q218.2,388.5 217.2,391 L206,414 Q205,415.8 203,415.8 L200.7,415.8" stroke-width="0.9" />
<path d="M199.7,385.8 L204.5,385.8 M199.7,391.2 L204.5,391.2" stroke-width="0.9" />
<circle cx="208.6" cy="388.5" r="4.6" stroke-width="0.9" />
<circle cx="208.6" cy="388.5" r="2.8" stroke-width="0.9" />
<line x1="199.7" y1="358" x2="199.7" y2="418" stroke-width="0.9" />
<line x1="66" y1="388.5" x2="229" y2="388.5" stroke-width="0.8" class="c" />
<line x1="85" y1="378" x2="85" y2="399" stroke-width="0.5" />
<line x1="208.6" y1="378" x2="208.6" y2="398.5" stroke-width="0.5" />
<circle cx="98.8" cy="364" r="2.8" stroke-width="0.8" />
<circle cx="98.8" cy="414" r="2.8" stroke-width="0.8" />
<line x1="112" y1="358.6" x2="160.6" y2="358.6" stroke-width="0.9" />
<line x1="112" y1="356.8" x2="112" y2="420.6" stroke-width="0.9" />
<line x1="127.5" y1="358.6" x2="127.5" y2="365.2" stroke-width="0.8" />
<line x1="160.6" y1="358.6" x2="160.6" y2="420.6" stroke-width="0.9" />
<path d="M116.1,370 Q116.1,365.8 120.5,365.8 L151.2,365.8 Q156.2,365.8 156.2,371.4 Q156.2,377.1 151.2,377.1 L130.5,377.1 Q128.7,377.1 128.7,379 L128.7,380.1 L119.5,380.1 L116.1,376.5 Z" stroke-width="0.9" />
<path d="M117.39999999999999,371.3 Q117.39999999999999,367.1 121.8,367.1 L149.89999999999998,367.1 Q154.89999999999998,367.1 154.89999999999998,371.4 Q154.89999999999998,375.8 149.89999999999998,375.8 L130.5,375.8 Q127.39999999999999,375.8 127.39999999999999,379 L127.39999999999999,378.8 L120.8,378.8 L117.39999999999999,376.5 Z" stroke-width="0.6" />
<rect x="118.1" y="370.7" width="4.4" height="4.4" stroke-width="0.7" />
<line x1="120.3" y1="370.7" x2="120.3" y2="375.09999999999997" stroke-width="0.5" />
<line x1="118.1" y1="372.9" x2="122.5" y2="372.9" stroke-width="0.5" />
<rect x="146.2" y="367.8" width="4.4" height="4.4" stroke-width="0.7" />
<line x1="148.39999999999998" y1="367.8" x2="148.39999999999998" y2="372.2" stroke-width="0.5" />
<line x1="146.2" y1="370.0" x2="150.6" y2="370.0" stroke-width="0.5" />
<path d="M105.4,395.6 L105.4,384.7 Q105.4,380.7 109.4,380.7 L113.9,380.7 Q117.9,380.7 117.9,384.7 L117.9,395.6 Z" stroke-width="0.9" />
<path d="M106.7,394.3 L106.7,386.0 Q106.7,382.0 110.7,382.0 L112.60000000000001,382.0 Q116.60000000000001,382.0 116.60000000000001,386.0 L116.60000000000001,394.3 Z" stroke-width="0.6" />
<line x1="104.6" y1="383.5" x2="104.6" y2="395" stroke-width="1.5" />
<rect x="109.2" y="386.3" width="4.4" height="4.4" stroke-width="0.7" />
<line x1="111.4" y1="386.3" x2="111.4" y2="390.7" stroke-width="0.5" />
<line x1="109.2" y1="388.5" x2="113.60000000000001" y2="388.5" stroke-width="0.5" />
<line x1="120.3" y1="380.1" x2="120.3" y2="386" stroke-width="0.7" />
<line x1="125.7" y1="380.1" x2="125.7" y2="386" stroke-width="0.7" />
<line x1="120.3" y1="386" x2="125.7" y2="386" stroke-width="0.7" />
<line x1="120.3" y1="391" x2="125.7" y2="391" stroke-width="0.7" />
<line x1="120.3" y1="391" x2="120.3" y2="396.2" stroke-width="0.7" />
<line x1="125.7" y1="391" x2="125.7" y2="396.2" stroke-width="0.7" />
<path d="M114.9,411.2 L114.9,400.2 Q114.9,396.2 118.9,396.2 L123.5,396.2 Q127.5,396.2 127.5,400.2 L127.5,411.2 Z" stroke-width="0.9" />
<path d="M116.2,409.9 L116.2,401.5 Q116.2,397.5 120.2,397.5 L122.2,397.5 Q126.2,397.5 126.2,401.5 L126.2,409.9 Z" stroke-width="0.6" />
<line x1="128.3" y1="398" x2="128.3" y2="410.5" stroke-width="1.5" />
<rect x="119" y="401.5" width="4.4" height="4.4" stroke-width="0.7" />
<line x1="121.2" y1="401.5" x2="121.2" y2="405.9" stroke-width="0.5" />
<line x1="119" y1="403.7" x2="123.4" y2="403.7" stroke-width="0.5" />
<rect x="140" y="396.2" width="16.2" height="24.4" stroke-width="0.9" />
<path d="M143,414.7 L143,403.2 Q143,399.2 147,399.2 L151.6,399.2 Q155.6,399.2 155.6,403.2 L155.6,414.7 Z" stroke-width="0.9" />
<path d="M144.3,413.4 L144.3,404.5 Q144.3,400.5 148.3,400.5 L150.29999999999998,400.5 Q154.29999999999998,400.5 154.29999999999998,404.5 L154.29999999999998,413.4 Z" stroke-width="0.6" />
<line x1="156.3" y1="401" x2="156.3" y2="414" stroke-width="1.5" />
<rect x="147.3" y="404.8" width="4.4" height="4.4" stroke-width="0.7" />
<line x1="149.5" y1="404.8" x2="149.5" y2="409.2" stroke-width="0.5" />
<line x1="147.3" y1="407.0" x2="151.70000000000002" y2="407.0" stroke-width="0.5" />
<circle cx="149" cy="388.5" r="5.7" stroke-width="0.9" />
<rect x="135.2" y="379.5" width="7.2" height="13.7" stroke-width="0.8" />
<rect x="136.2" y="381.5" width="2.3" height="2.6" stroke-width="0.5" class="f"/>
<rect x="139.2" y="381.5" width="2.3" height="2.6" stroke-width="0.5" class="f"/>
<rect x="136.2" y="385.3" width="2.3" height="2.6" stroke-width="0.5" class="f"/>
<rect x="139.2" y="385.3" width="2.3" height="2.6" stroke-width="0.5" class="f"/>
<rect x="136.2" y="389.1" width="2.3" height="2.6" stroke-width="0.5" class="f"/>
<rect x="139.2" y="389.1" width="2.3" height="2.6" stroke-width="0.5" class="f"/>
<text x="132" y="388.5" font-size="3.8" textLength="20" lengthAdjust="spacingAndGlyphs" text-anchor="middle" font-weight="bold" transform="rotate(-90 132 388.5)" dy="1.3">10A 250V~</text>
<text x="158.6" y="388.5" font-size="3.8" textLength="27" lengthAdjust="spacingAndGlyphs" text-anchor="middle" font-weight="bold" transform="rotate(-90 158.6 388.5)" dy="1.3">250V~ 10A T.5A</text>
<path d="M105.5,362.5 L111,362.5 L105.5,367 L111,367 Z" stroke-width="0.6" fill="#333"/>
<circle cx="108.2" cy="372" r="2.9" stroke-width="0.8" fill="#555"/>
<circle cx="108.2" cy="398.5" r="2.3" stroke-width="0.7" fill="#444"/>
<path d="M108.2,404.5 L111.5,411 L105,411 Z" stroke-width="0.7" fill="#444"/>
<text x="103" y="379.5" font-size="4.5" textLength="3" lengthAdjust="spacingAndGlyphs" text-anchor="middle" transform="rotate(90 103 379.5)" >E</text>
<text x="120.3" y="362.2" font-size="4.5" textLength="3" lengthAdjust="spacingAndGlyphs" text-anchor="middle" transform="rotate(90 120.3 362.2)" dy="1.5">L</text>
<text x="120.3" y="415.5" font-size="4.5" textLength="3" lengthAdjust="spacingAndGlyphs" text-anchor="middle" transform="rotate(90 120.3 415.5)" dy="1.5">N</text>
<rect x="161.8" y="361.5" width="36.4" height="53" rx="3.5" stroke-width="1.1" />
<rect x="165.1" y="367.2" width="29.3" height="41.1" rx="1" stroke-width="1.3" />
<rect x="173.9" y="364.1" width="11.3" height="3.1" stroke-width="0.8" />
<rect x="173.9" y="408.3" width="11.3" height="3.6" stroke-width="0.8" />
<line x1="179" y1="367.2" x2="179" y2="387.2" stroke-width="1.0" />
<rect x="178.5" y="389.8" width="2.6" height="13.4" stroke-width="0.7" />
<line x1="165.1" y1="387.2" x2="194.4" y2="387.2" stroke-width="1.0" />
<rect x="162.3" y="375.5" width="2.8" height="2" stroke-width="0.6" />
<rect x="194.6" y="375.5" width="3" height="2" stroke-width="0.6" />
<rect x="162.3" y="398.6" width="2.8" height="2" stroke-width="0.6" />
<rect x="194.6" y="398.6" width="3" height="2" stroke-width="0.6" />
<rect x="171.3" y="369.8" width="5.2" height="3.6" stroke-width="0.9" fill="#fff"/>
<rect x="173.15" y="373.40000000000003" width="2.5" height="8.199999999999978" stroke-width="0.6" fill="#333"/>
<path d="M171.8,381.59999999999997 L177.0,381.59999999999997 L177.0,384.2 Q177.0,385.2 176.0,385.2 L172.8,385.2 Q171.8,385.2 171.8,384.2 Z" stroke-width="0.9" fill="#fff"/>
<rect x="183.1" y="369.8" width="5.2" height="3.6" stroke-width="0.9" fill="#fff"/>
<rect x="184.95" y="373.40000000000003" width="2.5" height="8.199999999999978" stroke-width="0.6" fill="#333"/>
<path d="M183.6,381.59999999999997 L188.79999999999998,381.59999999999997 L188.79999999999998,384.2 Q188.79999999999998,385.2 187.79999999999998,385.2 L184.6,385.2 Q183.6,385.2 183.6,384.2 Z" stroke-width="0.9" fill="#fff"/>
<rect x="167.70000000000002" y="389.3" width="5.2" height="3.6" stroke-width="0.9" fill="#fff"/>
<rect x="169.75" y="392.90000000000003" width="2.5" height="8.699999999999978" stroke-width="0.6" fill="#333"/>
<path d="M168.4,401.59999999999997 L173.6,401.59999999999997 L173.6,404.2 Q173.6,405.2 172.6,405.2 L169.4,405.2 Q168.4,405.2 168.4,404.2 Z" stroke-width="0.9" fill="#fff"/>
<rect x="185.4" y="389.3" width="5.2" height="3.6" stroke-width="0.9" fill="#fff"/>
<rect x="187.15" y="392.90000000000003" width="2.5" height="8.699999999999978" stroke-width="0.6" fill="#333"/>
<path d="M185.8,401.59999999999997 L191.0,401.59999999999997 L191.0,404.2 Q191.0,405.2 190.0,405.2 L186.8,405.2 Q185.8,405.2 185.8,404.2 Z" stroke-width="0.9" fill="#fff"/>
<rect x="187.2" y="407.3" width="6.7" height="2.6" stroke-width="0.4" fill="#777"/>
<line x1="95" y1="337.5" x2="200" y2="337.5" stroke-width="0.8" />
<path d="M95,337.5 L98.5,336.4 L98.5,338.6 Z" class="f" stroke-width="0.4"/>
<path d="M200,337.5 L196.5,336.4 L196.5,338.6 Z" class="f" stroke-width="0.4"/>
<line x1="95" y1="337.5" x2="95" y2="353.6" stroke-width="0.8" />
<line x1="200" y1="337.5" x2="200" y2="353.6" stroke-width="0.8" />
<rect x="135.5" y="333.75" width="23.0" height="7.5" fill="#fff" stroke="none"/>
<text x="137.0" y="340.38" font-size="8" textLength="20" lengthAdjust="spacingAndGlyphs" letter-spacing="0.48" >47.00</text>
<line x1="238" y1="358.4" x2="238" y2="420" stroke-width="0.8" />
<path d="M238,358.4 L236.9,361.9 L239.1,361.9 Z" class="f" stroke-width="0.4"/>
<path d="M238,420 L236.9,416.5 L239.1,416.5 Z" class="f" stroke-width="0.4"/>
<line x1="205" y1="358.4" x2="241" y2="358.4" stroke-width="0.8" />
<line x1="205" y1="420" x2="241" y2="420" stroke-width="0.8" />
<rect x="234.25" y="376.5" width="7.5" height="23.0" fill="#fff" stroke="none"/>
<text x="238" y="388" font-size="8" textLength="20" lengthAdjust="spacingAndGlyphs" letter-spacing="0.48" text-anchor="middle" transform="rotate(-90 238 388)" dy="2.88">27.60</text>
<path d="M68.5,401.8 L72,401.8 L81,393" stroke-width="0.8" />
<text x="49.1" y="404.7" font-size="8" textLength="19.2" lengthAdjust="spacingAndGlyphs" letter-spacing="0.48" >ø3.30</text>
<rect x="487.6" y="323.2" width="42.89999999999998" height="45.80000000000001" stroke-width="0.9" stroke-dasharray="3 1.6"/>
<rect x="535.5" y="323.2" width="38.10000000000002" height="45.80000000000001" stroke-width="0.9" stroke-dasharray="3 1.6"/>
<line x1="511.8" y1="323.2" x2="511.8" y2="369" stroke-width="0.9" stroke-dasharray="3 1.6"/>
<circle cx="501.8" cy="336.8" r="1.5" class="f"/>
<line x1="501.8" y1="336.8" x2="516.4" y2="336.8" stroke-width="0.9" />
<circle cx="516.4" cy="336.8" r="1.5" class="f"/>
<path d="M516.4,336.8 Q519,336.8 520,333.5 Q521,331 522.5,334 Q524,339.5 526,337.5 L527.6,336.8" stroke-width="0.8" />
<circle cx="527.6" cy="336.8" r="1.5" class="f"/>
<line x1="527.6" y1="336.8" x2="529.2" y2="336.8" stroke-width="0.8" />
<circle cx="530.5" cy="336.8" r="1.4" stroke-width="0.7" fill="#fff"/>
<text x="496.4" y="338.3" font-size="4" textLength="2.4" lengthAdjust="spacingAndGlyphs" >L</text>
<text x="521" y="332" font-size="3.6" textLength="2.2" lengthAdjust="spacingAndGlyphs" >F</text>
<circle cx="501.8" cy="355.5" r="1.5" class="f"/>
<line x1="501.8" y1="355.5" x2="501.8" y2="367.6" stroke-width="0.9" />
<circle cx="501.8" cy="369" r="1.4" stroke-width="0.7" fill="#fff"/>
<text x="496" y="357" font-size="4" textLength="2.8" lengthAdjust="spacingAndGlyphs" >N</text>
<circle cx="547.8" cy="323.2" r="1.4" stroke-width="0.7" fill="#fff"/>
<line x1="547.8" y1="324.6" x2="547.8" y2="337.4" stroke-width="0.9" />
<circle cx="547.8" cy="337.4" r="1.5" class="f"/>
<circle cx="547.8" cy="355.5" r="1.5" class="f"/>
<line x1="547.8" y1="355.5" x2="547.8" y2="367.6" stroke-width="0.9" />
<circle cx="547.8" cy="369" r="1.4" stroke-width="0.7" fill="#fff"/>
<line x1="547.8" y1="355.5" x2="551.8" y2="342.5" stroke-width="0.9" />
<circle cx="561.3" cy="323.2" r="1.4" stroke-width="0.7" fill="#fff"/>
<line x1="561.3" y1="324.6" x2="561.3" y2="337.4" stroke-width="0.9" />
<circle cx="561.3" cy="337.4" r="1.5" class="f"/>
<circle cx="561.3" cy="355.5" r="1.5" class="f"/>
<line x1="561.3" y1="355.5" x2="561.3" y2="367.6" stroke-width="0.9" />
<circle cx="561.3" cy="369" r="1.4" stroke-width="0.7" fill="#fff"/>
<line x1="561.3" y1="355.5" x2="565.3" y2="342.5" stroke-width="0.9" />
<line x1="551" y1="346.5" x2="563.5" y2="346.5" stroke-width="0.7" stroke-dasharray="2 1.2"/>
<path d="M565.3,342.5 L568,344 L568.5,350" stroke-width="0.7" />
<text x="550.5" y="334.6" font-size="4" textLength="6" lengthAdjust="spacingAndGlyphs" >SW</text>
</g>
</svg></body></html>
